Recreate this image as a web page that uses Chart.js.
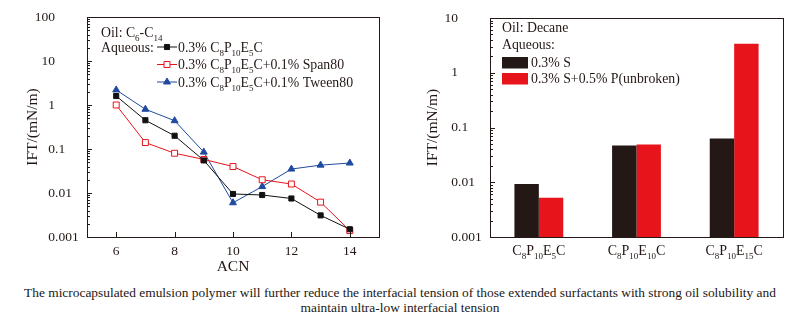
<!DOCTYPE html>
<html>
<head>
<meta charset="utf-8">
<script src="https://cdn.jsdelivr.net/npm/chart.js@4.4.1/dist/chart.umd.min.js"></script>
<style>
body { margin: 0; background: #fff; width: 800px; height: 322px; position: relative; overflow: hidden; font-family: "Liberation Serif", serif; }
.box { position: absolute; top: 0; width: 400px; height: 280px; }
#caption { position: absolute; top: 286px; left: 0; width: 800px; text-align: center; font-size: 13.4px; line-height: 14.5px; color: #231815; white-space: nowrap; }
</style>
</head>
<body>
<div class="box" style="left:0"><canvas id="leftChart" width="400" height="280"></canvas></div>
<div class="box" style="left:400px"><canvas id="rightChart" width="400" height="280"></canvas></div>
<div id="caption">The microcapsulated emulsion polymer will further reduce the interfacial tension of those extended surfactants with strong oil solubility and<br>maintain ultra-low interfacial tension</div>
<script>
// left panel: IFT vs ACN
const acn = [6, 7, 8, 9, 10, 11, 12, 13, 14];
const iftSurf = [1.6, 0.45, 0.2, 0.055, 0.0095, 0.009, 0.0075, 0.0031, 0.0015];
const iftSpan = [1.0, 0.14, 0.08, 0.058, 0.04, 0.02, 0.016, 0.0062, 0.0014];
const iftTween = [2.2, 0.8, 0.44, 0.085, 0.006, 0.014, 0.035, 0.043, 0.048];
const lineLabels = ['0.3% C_{8}P_{10}E_{5}C', '0.3% C_{8}P_{10}E_{5}C+0.1% Span80', '0.3% C_{8}P_{10}E_{5}C+0.1% Tween80'];
const acnTicks = [6, 8, 10, 12, 14];
const yTicksLeft = [0.001, 0.01, 0.1, 1, 10, 100];

// right panel: bars per surfactant
const surfactants = ['C_{8}P_{10}E_{5}C', 'C_{8}P_{10}E_{10}C', 'C_{8}P_{10}E_{15}C'];
const iftS = [0.0093, 0.047, 0.063];
const iftSP = [0.0052, 0.049, 3.4];
const barLabels = ['0.3% S', '0.3% S+0.5% P(unbroken)'];
const yTicksRight = [0.001, 0.01, 0.1, 1, 10];

const INK = '#231815';
const FONT = '"Liberation Serif", "Times New Roman", serif';

// text with _{..} subscripts, y is the baseline
function richText(ctx, str, x, y, size, align) {
    const parts = [];
    const re = /_\{([^}]*)\}/g;
    let last = 0, m;
    while ((m = re.exec(str))) {
        if (m.index > last) parts.push({ t: str.slice(last, m.index), sub: false });
        parts.push({ t: m[1], sub: true });
        last = re.lastIndex;
    }
    if (last < str.length) parts.push({ t: str.slice(last), sub: false });
    const subSize = Math.round(size * 0.62);
    let w = 0;
    parts.forEach(p => {
        ctx.font = (p.sub ? subSize : size) + 'px ' + FONT;
        p.w = ctx.measureText(p.t).width;
        w += p.w;
    });
    let cx = align === 'center' ? x - w / 2 : x;
    ctx.textAlign = 'left';
    ctx.textBaseline = 'alphabetic';
    parts.forEach(p => {
        ctx.font = (p.sub ? subSize : size) + 'px ' + FONT;
        ctx.fillText(p.t, cx, p.sub ? y + size * 0.3 : y);
        cx += p.w;
    });
}

// frame, inward ticks and decimal-aligned y labels
function drawAxes(chart, yTicks, xTicks) {
    const ctx = chart.ctx;
    const a = chart.chartArea;
    const y = chart.scales.y;
    ctx.save();
    ctx.strokeStyle = INK;
    ctx.lineWidth = 1;
    ctx.beginPath();
    const lo = Math.round(Math.log10(y.min)), hi = Math.round(Math.log10(y.max));
    for (let d = lo; d <= hi; d++) {
        const py = Math.round(y.getPixelForValue(Math.pow(10, d))) + 0.5;
        ctx.moveTo(a.left, py); ctx.lineTo(a.left + 5, py);
        if (d === hi) break;
        for (let k = 2; k <= 9; k++) {
            const pm = Math.round(y.getPixelForValue(k * Math.pow(10, d))) + 0.5;
            ctx.moveTo(a.left, pm); ctx.lineTo(a.left + 3, pm);
        }
    }
    if (xTicks) {
        xTicks.forEach(v => {
            const px = Math.round(chart.scales.x.getPixelForValue(v)) + 0.5;
            ctx.moveTo(px, a.bottom); ctx.lineTo(px, a.bottom - 5);
        });
    }
    ctx.stroke();
    ctx.strokeRect(Math.round(a.left) + 0.5, Math.round(a.top) + 0.5, Math.round(a.right - a.left), Math.round(a.bottom - a.top));

    ctx.fillStyle = INK;
    ctx.font = '13.5px ' + FONT;
    ctx.textBaseline = 'middle';
    const anchor = a.left - 32;
    yTicks.forEach(v => {
        const s = String(v);
        const dot = s.indexOf('.');
        const intPart = dot < 0 ? s : s.slice(0, dot);
        const frac = dot < 0 ? '' : s.slice(dot);
        const py = y.getPixelForValue(v);
        ctx.textAlign = 'right';
        ctx.fillText(intPart, anchor, py);
        ctx.textAlign = 'left';
        ctx.fillText(frac, anchor, py);
    });
    ctx.restore();
}

const leftDecor = {
    id: 'leftDecor',
    afterDraw(chart) {
        drawAxes(chart, yTicksLeft, acnTicks);
        const ctx = chart.ctx;
        ctx.save();
        ctx.fillStyle = INK;
        richText(ctx, 'Oil: C_{6}-C_{14}', 101, 36.5, 13.8);
        richText(ctx, 'Aqueous:', 101, 51.5, 13.8);
        chart.data.datasets.forEach((ds, i) => {
            const ry = 47 + i * 17.5;
            ctx.strokeStyle = ds.borderColor;
            ctx.lineWidth = 1;
            ctx.beginPath();
            ctx.moveTo(157, ry); ctx.lineTo(177, ry);
            ctx.stroke();
            ctx.fillStyle = ds.pointBackgroundColor;
            Chart.helpers.drawPoint(ctx, { pointStyle: ds.pointStyle, radius: ds.pointRadius, rotation: 0, borderWidth: 1 }, 167, ry);
            ctx.fillStyle = INK;
            richText(ctx, lineLabels[i], 178, ry + 4.5, 13.8);
        });
        ctx.restore();
    }
};

const rightDecor = {
    id: 'rightDecor',
    afterDraw(chart) {
        drawAxes(chart, yTicksRight, null);
        const ctx = chart.ctx;
        ctx.save();
        ctx.fillStyle = INK;
        richText(ctx, 'Oil: Decane', 102, 31.5, 13.8);
        richText(ctx, 'Aqueous:', 102, 48.5, 13.8);
        chart.data.datasets.forEach((ds, i) => {
            const ry = 57 + i * 16;
            ctx.fillStyle = ds.backgroundColor;
            ctx.fillRect(102, ry, 26, 11.5);
            ctx.fillStyle = INK;
            richText(ctx, barLabels[i], 131, ry + 10, 13.8);
        });
        const x = chart.scales.x;
        surfactants.forEach((s, i) => {
            richText(ctx, s, x.getPixelForValue(i), 255, 14, 'center');
        });
        ctx.restore();
    }
};

function logAxis(min, max, width) {
    return {
        type: 'logarithmic',
        min: min,
        max: max,
        ticks: { display: false },
        grid: { display: false, drawTicks: false },
        border: { display: false },
        title: {
            display: true,
            text: 'IFT/(mN/m)',
            color: INK,
            font: { family: FONT, size: 15.5 },
            padding: { top: 24, bottom: 0 }
        },
        afterFit(scale) { scale.width = width; }
    };
}

new Chart(document.getElementById('leftChart'), {
    type: 'line',
    data: {
        datasets: [{
            label: lineLabels[0],
            data: acn.map((v, i) => ({ x: v, y: iftSurf[i] })),
            borderColor: '#111111',
            pointBackgroundColor: '#111111',
            pointBorderColor: '#111111',
            pointStyle: 'rect',
            pointRadius: 3.6,
            borderWidth: 1
        }, {
            label: lineLabels[1],
            data: acn.map((v, i) => ({ x: v, y: iftSpan[i] })),
            borderColor: '#e8141c',
            pointBackgroundColor: '#ffffff',
            pointBorderColor: '#e8141c',
            pointStyle: 'rect',
            pointRadius: 4.2,
            borderWidth: 1
        }, {
            label: lineLabels[2],
            data: acn.map((v, i) => ({ x: v, y: iftTween[i] })),
            borderColor: '#1f4aa0',
            pointBackgroundColor: '#1f4aa0',
            pointBorderColor: '#1f4aa0',
            pointStyle: 'triangle',
            pointRadius: 4,
            borderWidth: 1
        }]
    },
    options: {
        responsive: false,
        animation: false,
        layout: { padding: { left: 0, top: 17, right: 21, bottom: 0 } },
        plugins: { legend: { display: false }, tooltip: { enabled: false } },
        scales: {
            x: {
                type: 'linear',
                min: 5,
                max: 15,
                afterBuildTicks(scale) { scale.ticks = acnTicks.map(v => ({ value: v })); },
                ticks: { color: INK, font: { family: FONT, size: 13.5 }, padding: 6 },
                grid: { display: false, drawTicks: false },
                border: { display: false },
                title: {
                    display: true,
                    text: 'ACN',
                    color: INK,
                    font: { family: FONT, size: 15.5 },
                    padding: { top: 0, bottom: 4 }
                },
                afterFit(scale) { scale.height = 43; }
            },
            y: logAxis(0.001, 100, 87)
        }
    },
    plugins: [leftDecor]
});

new Chart(document.getElementById('rightChart'), {
    type: 'bar',
    data: {
        labels: surfactants,
        datasets: [{
            label: barLabels[0],
            data: iftS,
            backgroundColor: INK,
            borderWidth: 0
        }, {
            label: barLabels[1],
            data: iftSP,
            backgroundColor: '#e8141c',
            borderWidth: 0
        }]
    },
    options: {
        responsive: false,
        animation: false,
        layout: { padding: { left: 0, top: 18, right: 17, bottom: 0 } },
        plugins: { legend: { display: false }, tooltip: { enabled: false } },
        datasets: { bar: { categoryPercentage: 0.5, barPercentage: 1.0 } },
        scales: {
            x: {
                ticks: { display: false },
                grid: { display: false, drawTicks: false },
                border: { display: false },
                afterFit(scale) { scale.height = 43; }
            },
            y: logAxis(0.001, 10, 90)
        }
    },
    plugins: [rightDecor]
});
</script>
</body>
</html>
